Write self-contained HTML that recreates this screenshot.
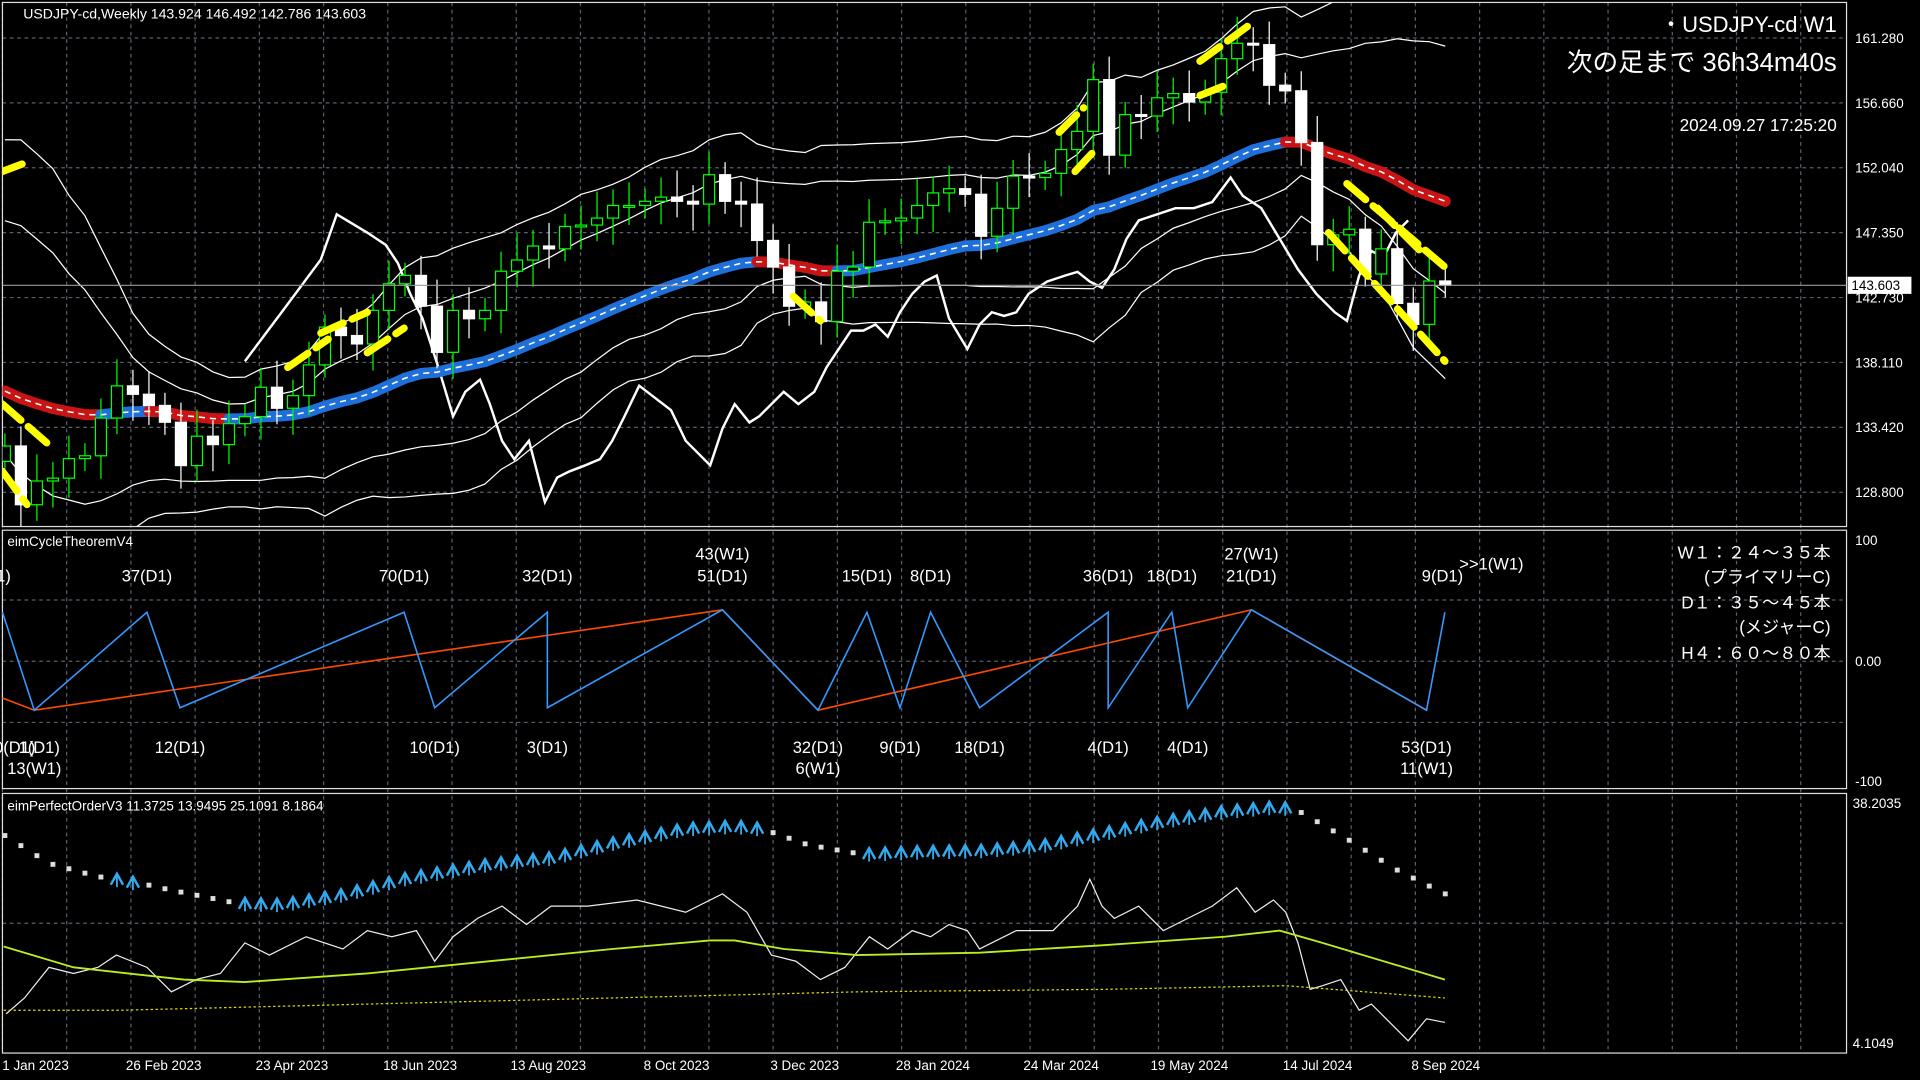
<!DOCTYPE html>
<html><head><meta charset="utf-8"><style>
html,body{margin:0;padding:0;background:#000;overflow:hidden}
svg{display:block}
text{font-family:"Liberation Sans","Noto Sans CJK JP",sans-serif;fill:#fff}
</style></head><body>
<svg id="s" width="1920" height="1080" viewBox="0 0 1568 882" preserveAspectRatio="none" xmlns="http://www.w3.org/2000/svg">
<defs><clipPath id="cm"><rect x="2" y="2" width="1506" height="428"/></clipPath></defs>
<rect width="1568" height="882" fill="#000"/>
<g id="g"></g>
</svg>
<script>
const g=document.getElementById('g');let h='';
const R=1508;
for(let x=2;x<R;x+=52.45){h+=`<line x1="${x}" y1="2" x2="${x}" y2="860" stroke="#56606e" stroke-dasharray="3 3"/>`;}
[31,84,137,190,243,296,349,402].forEach(y=>h+=`<line x1="2" y1="${y}" x2="${R}" y2="${y}" stroke="#56606e" stroke-dasharray="3 3"/>`);
[490,540,590].forEach(y=>h+=`<line x1="2" y1="${y}" x2="${R}" y2="${y}" stroke="#56606e" stroke-dasharray="3 3"/>`);
h+=`<line x1="2" y1="754" x2="${R}" y2="754" stroke="#56606e" stroke-dasharray="3 3"/>`;
h+=`<rect x="2" y="2" width="${R-2}" height="428" fill="none" stroke="#ddd"/>`;
h+=`<rect x="2" y="433" width="${R-2}" height="211" fill="none" stroke="#ddd"/>`;
h+=`<rect x="2" y="648" width="${R-2}" height="212" fill="none" stroke="#ddd"/>`;
const Y=p=>31+(161.28-p)*11.42, X=i=>4+13.07*i;
const pre=[145,148,147,149,146,148,147,146,142,139,138,136,137,136,134,132,131,133,131];
const C=[132.1,127.9,129.6,129.8,131.2,131.4,134.1,136.4,135.8,135.0,133.8,130.7,132.8,132.2,133.7,134.2,136.3,134.8,135.7,137.9,140.6,140.0,139.4,141.8,143.7,144.3,142.1,138.8,141.8,141.2,141.8,144.6,145.4,146.4,146.2,147.8,147.9,148.4,149.3,149.3,149.6,149.9,149.6,149.4,151.5,149.6,149.4,146.8,144.9,142.1,142.4,141.0,144.6,144.9,148.1,148.2,148.4,149.3,150.2,150.5,150.1,147.1,149.1,151.4,151.3,151.6,153.3,154.6,158.3,152.9,155.8,155.7,157.0,157.3,156.7,157.4,159.8,160.9,160.8,157.9,157.5,153.8,146.5,147.2,147.6,144.4,146.2,142.3,140.8,143.9,143.6];
const all=pre.concat(C);
let u2=[],l2=[],u3=[],l3=[];
for(let i=0;i<C.length;i++){const k=i+pre.length;const w=all.slice(k-19,k+1);const m=w.reduce((a,b)=>a+b)/20;const sd=Math.sqrt(w.reduce((a,b)=>a+(b-m)*(b-m),0)/20);
u2.push([X(i),Y(m+1.3*sd)]);l2.push([X(i),Y(m-1.3*sd)]);u3.push([X(i),Y(m+2.2*sd)]);l3.push([X(i),Y(m-2.2*sd)]);}
const pl=(pts,st)=>`<polyline points="${pts.map(p=>p.join(',')).join(' ')}" fill="none" ${st}/>`;
h+='<g clip-path="url(#cm)">';
[u2,l2,u3,l3].forEach(a=>h+=pl(a,'stroke="#fff" stroke-width="1"'));
const ch=[[200,295],[230,255],[262,212],[275,175],[300,190],[315,200],[325,215],[335,240],[345,260],[358,300],[370,340],[380,320],[392,310],[400,330],[410,360],[420,375],[432,360],[445,410],[455,390],[465,385],[478,380],[490,375],[500,360],[510,340],[522,315],[535,325],[548,335],[560,360],[570,370],[580,380],[590,350],[600,330],[612,345],[620,340],[630,330],[640,320],[652,330],[665,320],[675,300],[685,285],[695,270],[705,270],[715,265],[725,275],[735,255],[745,240],[755,230],[765,225],[775,260],[790,285],[800,265],[810,255],[820,258],[830,255],[840,240],[855,230],[870,225],[880,222],[890,230],[900,235],[910,220],[920,195],[930,180],[945,175],[960,170],[975,170],[990,165],[1005,145],[1015,160],[1030,170],[1045,195],[1060,220],[1075,240],[1090,255],[1100,262],[1110,225],[1120,205],[1130,210],[1140,190],[1150,180]];
h+=pl(ch,'stroke="#fff" stroke-width="2"');
let e=136.3,ma=[];for(let i=0;i<C.length;i++){e=e+(C[i]-e)*2/31;ma.push(e);}
for(let i=1;i<ma.length;i++){const col=ma[i]<ma[i-1]?'#c81414':'#1e6fd9';
h+=`<line x1="${X(i-1)}" y1="${Y(ma[i-1])}" x2="${X(i)}" y2="${Y(ma[i])}" stroke="${col}" stroke-width="9" stroke-linecap="round"/>`;}
h+=pl(ma.map((v,i)=>[X(i),Y(v)]),'stroke="#fff" stroke-width="1.3" stroke-dasharray="5 4"');
let o=131.0;
for(let i=0;i<C.length;i++){const c=C[i];const hi=Math.max(o,c)+0.9+((i*7)%5)*0.25,lo=Math.min(o,c)-0.9-((i*3)%5)*0.25;const x=X(i);
const col=c>=o?'#00ff00':'#ffffff';
h+=`<line x1="${x}" y1="${Y(hi)}" x2="${x}" y2="${Y(lo)}" stroke="${col}"/>`;
const t=Y(Math.max(o,c)),b=Y(Math.min(o,c));
h+=`<rect x="${x-4.5}" y="${t}" width="9" height="${Math.max(b-t,1.5)}" fill="${c>=o?'#000':'#fff'}" stroke="${col}"/>`;o=c;}
[[2,140,18,134],[2,330,42,365],[2,385,22,412],[235,300,268,277],[262,272,300,255],[300,288,330,268],[648,242,670,262],[865,108,885,88],[878,140,892,125],[980,50,1025,17],[980,78,1000,70],[1100,150,1180,218],[1085,190,1180,295],[1125,170,1160,205]].forEach(a=>h+=`<line x1="${a[0]}" y1="${a[1]}" x2="${a[2]}" y2="${a[3]}" stroke="#ffff00" stroke-width="6" stroke-dasharray="20 8" stroke-linecap="round"/>`);
h+='</g>';
h+=`<line x1="2" y1="233" x2="${R}" y2="233" stroke="#9a9a9a"/>`;
[['161.280',31],['156.660',84],['152.040',137],['147.350',190],['142.730',243],['138.110',296],['133.420',349],['128.800',402]].forEach(a=>h+=`<text x="1515" y="${a[1]+4}" font-size="11">${a[0]}</text>`);
h+=`<rect x="1509" y="226" width="52" height="14" fill="#fff"/><text x="1512" y="237" font-size="11" style="fill:#000">143.603</text>`;
h+=`<text x="19" y="15" font-size="11.5">USDJPY-cd,Weekly  143.924 146.492 142.786 143.603</text>`;
h+=`<text x="1500" y="26" font-size="18" text-anchor="end">・USDJPY-cd W1</text>`;
h+=`<text x="1500" y="58" font-size="21" text-anchor="end">次の足まで 36h34m40s</text>`;
h+=`<text x="1500" y="107" font-size="14" text-anchor="end">2024.09.27 17:25:20</text>`;
h+=`<text x="6" y="446" font-size="11">eimCycleTheoremV4</text>`;
[['100',441],['0.00',540],['-100',638]].forEach(a=>h+=`<text x="1515" y="${a[1]+4}" font-size="11">${a[0]}</text>`);
const bl=[[2,500],[28,580],[120,500],[147,578],[330,500],[355,578],[447,500],[447,578],[590,498],[668,580],[708,500],[735,578],[760,500],[800,578],[905,500],[905,578],[957,500],[970,578],[1022,498],[1165,580],[1180,500]];
const orl=[[2,570],[28,580],[590,498],[668,580],[1022,498],[1165,580]];
h+=pl(orl,'stroke="#ff4a00" stroke-width="1.3"');h+=pl(bl,'stroke="#3399ff" stroke-width="1.3"');
[['1(D1)',-8,470],['37(D1)',120,470],['70(D1)',330,470],['32(D1)',447,470],['43(W1)',590,452],['51(D1)',590,470],['15(D1)',708,470],['8(D1)',760,470],['36(D1)',905,470],['18(D1)',957,470],['27(W1)',1022,452],['21(D1)',1022,470],['9(D1)',1178,470],['&gt;&gt;1(W1)',1218,460],
['0(D1)',12,610],['1(D1)',32,610],['13(W1)',28,627],['12(D1)',147,610],['10(D1)',355,610],['3(D1)',447,610],['32(D1)',668,610],['6(W1)',668,627],['9(D1)',735,610],['18(D1)',800,610],['4(D1)',905,610],['4(D1)',970,610],['53(D1)',1165,610],['11(W1)',1165,627]].forEach(a=>h+=`<text x="${a[1]}" y="${a[2]+5}" font-size="13.5" text-anchor="middle">${a[0]}</text>`);
[['W１：２４～３５本',451],['(プライマリーC)',471],['D１：３５～４５本',492],['(メジャーC)',512],['H４：６０～８０本',533]].forEach(a=>h+=`<text x="1495" y="${a[1]+5}" font-size="14" text-anchor="end">${a[0]}</text>`);
h+=`<text x="6" y="662" font-size="11">eimPerfectOrderV3 11.3725 13.9495 25.1091 8.1864</text>`;
h+=`<text x="1513" y="660" font-size="11">38.2035</text><text x="1513" y="856" font-size="11">4.1049</text>`;
const cv=[[5,683],[40,705],[80,716],[100,718],[140,727],[190,737],[230,738],[280,730],[330,717],[400,705],[450,700],[500,688],[560,676],[600,674],[620,676],[660,690],[700,697],[750,695],[800,694],[850,690],[900,680],[950,670],[1000,662],[1045,658],[1060,662],[1100,685],[1140,710],[1180,730]];
const itp=x=>{for(let k=1;k<cv.length;k++){if(x<=cv[k][0]){const a=cv[k-1],b=cv[k];return a[1]+(b[1]-a[1])*(x-a[0])/(b[0]-a[0]);}}return 730;};
for(let i=0;i<C.length;i++){const x=X(i),y=itp(x);const blue=(x>88&&x<112)||(x>188&&x<622)||(x>698&&x<1052);
if(blue)h+=`<polyline points="${x-5},${y+5} ${x},${y-4} ${x+5},${y+5}" fill="none" stroke="#33aaee" stroke-width="2"/><line x1="${x}" y1="${y-4}" x2="${x}" y2="${y+7}" stroke="#33aaee" stroke-width="1.5"/>`;
else h+=`<rect x="${x-2}" y="${y-2}" width="4" height="4" fill="#ddd"/>`;}
h+=pl([[5,828],[20,815],[40,790],[60,795],[80,790],[95,780],[120,790],[140,810],[160,800],[180,795],[200,770],[220,780],[250,765],[280,775],[300,760],[320,765],[340,760],[355,785],[370,765],[390,750],[410,740],[430,755],[450,740],[480,740],[520,735],[560,745],[590,730],[610,745],[630,780],[650,785],[670,800],[690,790],[710,765],[725,775],[745,760],[760,765],[775,755],[790,760],[800,775],[810,770],[830,760],[860,760],[880,740],[890,718],[900,740],[910,750],[930,740],[950,760],[970,750],[990,740],[1010,725],[1025,745],[1040,735],[1050,745],[1060,770],[1070,808],[1080,805],[1095,800],[1110,825],[1120,820],[1135,835],[1150,850],[1165,832],[1180,835]],'stroke="#eee" stroke-width="1"');
h+=pl([[3,773],[60,790],[150,800],[200,802],[300,795],[400,785],[500,775],[580,768],[600,768],[640,775],[700,780],[800,778],[900,772],[1000,765],[1045,760],[1080,770],[1180,800]],'stroke="#bbee22" stroke-width="1.5"');
h+=pl([[3,825],[100,825],[300,820],[500,815],[700,810],[900,808],[1050,805],[1180,815]],'stroke="#dddd00" stroke-width="1" stroke-dasharray="2 2"');
['1 Jan 2023','26 Feb 2023','23 Apr 2023','18 Jun 2023','13 Aug 2023','8 Oct 2023','3 Dec 2023','28 Jan 2024','24 Mar 2024','19 May 2024','14 Jul 2024','8 Sep 2024'].forEach((t,k)=>h+=`<text x="${29+k*104.7}" y="874" font-size="11" text-anchor="middle">${t}</text>`);
g.innerHTML=h;
</script>
</body></html>
